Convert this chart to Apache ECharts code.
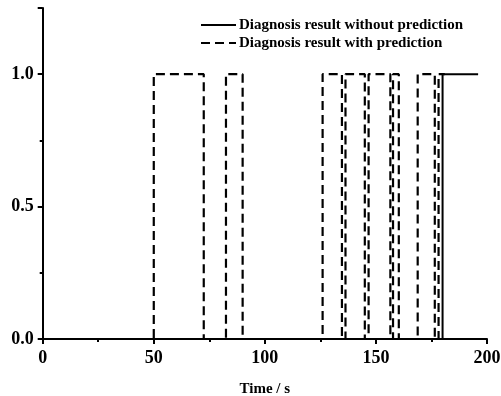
<!DOCTYPE html>
<html>
<head>
<meta charset="utf-8">
<script src="https://cdn.jsdelivr.net/npm/echarts@6/dist/echarts.min.js"></script>
<style>html,body{margin:0;padding:0;background:#fff}#c{width:501px;height:396px}</style>
</head>
<body>
<div id="c"></div>
<script>
var seriesNames = ['Diagnosis result without prediction', 'Diagnosis result with prediction'];
var solidTimes  = [0, 180, 180, 196];
var solidStates = [0, 0, 1, 1];
var dashedTimes  = [0, 50, 50, 72.5, 72.5, 82.5, 82.5, 90, 90, 126, 126, 134.7, 134.7, 136.3, 136.3, 145, 145, 146.7, 146.7, 156.5, 156.5, 157.7, 157.7, 160.3, 160.3, 168.8, 168.8, 176.5, 176.5, 178.2, 178.2, 181];
var dashedStates = [0, 0, 1, 1, 0, 0, 1, 1, 0, 0, 1, 1, 0, 0, 1, 1, 0, 0, 1, 1, 0, 0, 1, 1, 0, 0, 1, 1, 0, 0, 1, 1];
var xTicks = [0, 50, 100, 150, 200];
var yTicks = [0, 0.5, 1.0];
var xTitle = 'Time / s';

function pairs(xs, ys) { return xs.map(function (x, i) { return [x, ys[i]]; }); }
var font = 'Liberation Serif';
var chart = echarts.init(document.getElementById('c'));
chart.setOption({
  animation: false,
  backgroundColor: '#fff',
  color: ['#000', '#000'],
  grid: { left: 42.7, right: 14, top: 8, bottom: 57, containLabel: false, outerBoundsMode: 'none' },
  legend: {
    orient: 'vertical', left: 195, top: 12, itemWidth: 35, itemHeight: 10, itemGap: 2,
    data: [seriesNames[0], seriesNames[1]],
    itemStyle: { opacity: 0 },
    textStyle: { fontFamily: font, fontWeight: 'bold', fontSize: 15, lineHeight: 16, color: '#000', padding: [0,0,0,-2] }
  },
  xAxis: {
    type: 'value', min: 0, max: 200, interval: 50,
    name: xTitle, nameLocation: 'middle', nameGap: 43,
    nameTextStyle: { fontFamily: font, fontWeight: 'bold', fontSize: 15, color: '#000' },
    axisLine: { show: true, lineStyle: { color: '#000', width: 2 } },
    axisTick: { show: true, length: 5, lineStyle: { color: '#000', width: 2 } },
    minorTick: { show: true, splitNumber: 2, length: 3, lineStyle: { color: '#000', width: 2 } },
    splitLine: { show: false }, minorSplitLine: { show: false },
    axisLabel: { margin: 10, fontFamily: font, fontWeight: 'bold', fontSize: 18, color: '#000',
      formatter: function (v) { return xTicks.indexOf(v) >= 0 ? String(v) : ''; } }
  },
  yAxis: {
    type: 'value', min: 0, max: 1.25, interval: 0.5,
    axisLine: { show: true, lineStyle: { color: '#000', width: 2 } },
    axisTick: { show: true, length: 5, lineStyle: { color: '#000', width: 2 } },
    minorTick: { show: true, splitNumber: 2, length: 3, lineStyle: { color: '#000', width: 2 } },
    splitLine: { show: false }, minorSplitLine: { show: false },
    axisLabel: { margin: 9, fontFamily: font, fontWeight: 'bold', fontSize: 18, color: '#000', showMaxLabel: false,
      formatter: function (v) { return yTicks.indexOf(v) >= 0 ? v.toFixed(1) : ''; } }
  },
  series: [
    { name: seriesNames[1], type: 'line', symbol: 'none', z: 2,
      data: pairs(dashedTimes, dashedStates),
      lineStyle: { color: '#000', width: 2.2, type: [9, 5] } },
    { name: seriesNames[0], type: 'line', symbol: 'none', z: 3,
      data: pairs(solidTimes, solidStates),
      lineStyle: { color: '#000', width: 2, type: 'solid' } }
  ]
});
</script>
</body>
</html>
